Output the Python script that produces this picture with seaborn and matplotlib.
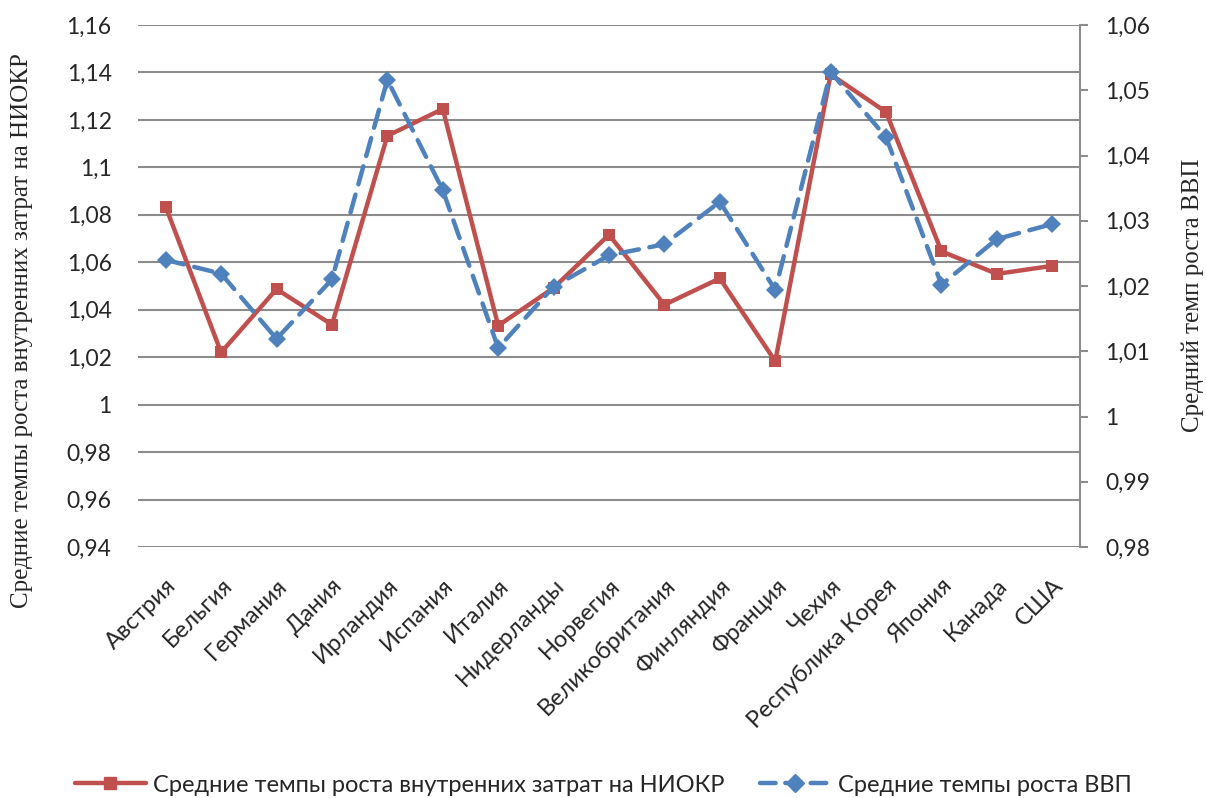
import pandas as pd
import matplotlib.pyplot as plt
import seaborn as sns
from matplotlib.lines import Line2D
from matplotlib.transforms import ScaledTranslation

countries = ['Австрия', 'Бельгия', 'Германия', 'Дания', 'Ирландия', 'Испания',
             'Италия', 'Нидерланды', 'Норвегия', 'Великобритания', 'Финляндия',
             'Франция', 'Чехия', 'Республика Корея', 'Япония', 'Канада', 'США']

# средние темпы роста внутренних затрат на НИОКР (левая ось)
rd_growth = [1.0834, 1.0220, 1.0487, 1.0337, 1.1133, 1.1246, 1.0333, 1.0492,
             1.0716, 1.0421, 1.0532, 1.0183, 1.1392, 1.1233, 1.0646, 1.0551, 1.0585]

# средние темпы роста ВВП (правая ось)
gdp_growth = [1.0240, 1.0219, 1.0119, 1.0210, 1.0516, 1.0347, 1.0105, 1.0199,
              1.0247, 1.0264, 1.0329, 1.0194, 1.0528, 1.0428, 1.0202, 1.0272, 1.0295]

left_ticks = [0.94, 0.96, 0.98, 1.0, 1.02, 1.04, 1.06, 1.08, 1.1, 1.12, 1.14, 1.16]
right_ticks = [0.98, 0.99, 1.0, 1.01, 1.02, 1.03, 1.04, 1.05, 1.06]

label_rd = 'Средние темпы роста внутренних затрат на НИОКР'
label_gdp = 'Средние темпы роста ВВП'
label_right_axis = 'Средний темп роста ВВП'

RED = '#C0504D'
BLUE = '#4F81BD'
GRID = '#8C8C8C'


def fmt(v):
    return ('%g' % v).replace('.', ',')


df = pd.DataFrame({'country': countries, 'pos': range(len(countries)),
                   'rd': rd_growth, 'gdp': gdp_growth})

sns.set_theme(style='white')
plt.rcParams['font.family'] = ['Lato', 'DejaVu Sans']

W, H = 1206, 798
fig = plt.figure(figsize=(W / 100, H / 100), dpi=100)
ax = fig.add_axes([138 / W, 1 - 547 / H, (1080 - 138) / W, (547 - 25) / H])
ax2 = ax.twinx()

sns.lineplot(data=df, x='pos', y='rd', ax=ax, color=RED, lw=3.2,
             marker='s', markersize=8, markeredgewidth=0, zorder=3)
sns.lineplot(data=df, x='pos', y='gdp', ax=ax2, color=BLUE, lw=3.2,
             marker='D', markersize=9, markeredgewidth=0,
             dashes=False, zorder=3)
ax2.lines[0].set_dashes((4.2, 2.4))
ax2.lines[0].set_dash_capstyle('round')

ax.set_xlim(-0.5, len(countries) - 0.5)
ax.set_ylim(0.94, 1.16)
ax2.set_ylim(0.98, 1.06)

ax.set_yticks(left_ticks)
ax.set_yticklabels([fmt(v) for v in left_ticks], fontsize=16.5)
ax2.set_yticks(right_ticks)
ax2.set_yticklabels([fmt(v) for v in right_ticks], fontsize=16.5)

ax.set_xticks(range(len(countries)))
ax.set_xticklabels(countries, rotation=45, ha='right', rotation_mode='anchor',
                   fontsize=17)
shift = ScaledTranslation(4 / 100, 0, fig.dpi_scale_trans)
for lab in ax.get_xticklabels():
    lab.set_transform(lab.get_transform() + shift)

ax.grid(axis='y', color=GRID, lw=1.5)
ax.set_axisbelow(True)
for s in ['top', 'left', 'right', 'bottom']:
    ax.spines[s].set_visible(False)
    ax2.spines[s].set_visible(False)
ax2.spines['right'].set_visible(True)
ax2.spines['right'].set_color(GRID)
ax2.spines['right'].set_linewidth(1.5)

ax.tick_params(axis='y', length=0, pad=19)
ax.tick_params(axis='x', length=0, pad=20)
ax2.tick_params(axis='y', length=6, width=1.5, color=GRID, pad=12)

ax.set_xlabel('')
ax.set_ylabel(label_rd, family=['Liberation Serif'], fontsize=18)
ax.yaxis.set_label_coords(-0.111, 0.414)
ax2.set_ylabel(label_right_axis, family=['Liberation Serif'], fontsize=18)
ax2.yaxis.set_label_coords(1.108, 0.483)

handles = [Line2D([], [], color=RED, lw=3.2, marker='s', markersize=8),
           Line2D([], [], color=BLUE, lw=3.2, marker='D', markersize=9,
                  dashes=(3.5, 2.2), dash_capstyle='round')]
fig.legend(handles, [label_rd, label_gdp], loc='center',
           bbox_to_anchor=(0.5, 1 - 785 / H), ncol=2, frameon=False,
           fontsize=17, handlelength=3.0, handletextpad=0.3, columnspacing=1.5)

fig.savefig('out.png', dpi=100)
